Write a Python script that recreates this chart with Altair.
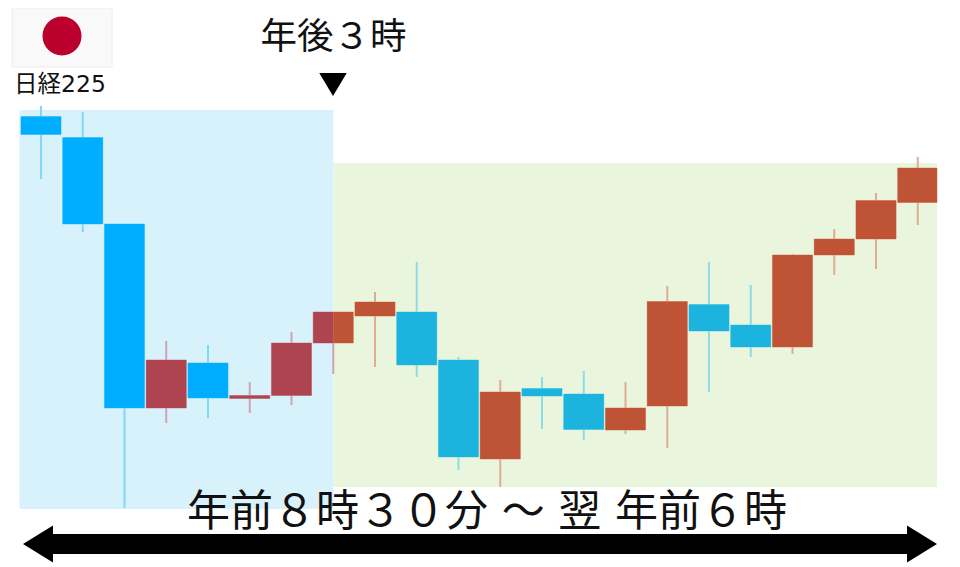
import altair as alt
import pandas as pd

# Candles, in chart units (higher = up)
body_top = [450.5, 429.5, 343, 207, 204, 171.5, 224, 255, 265, 255, 207, 175, 178.5, 173, 159, 265.5, 262.5, 242, 312, 328, 366.5, 399]
body_bot = [432.5, 343, 159, 159, 169, 168.5, 171.5, 224, 251, 202, 110, 108, 171, 137.5, 137, 161, 236, 220, 220, 312, 328, 364.5]
wick_hi = [461, 455, 343, 226, 222, 185, 235, 255, 275, 305, 210, 187, 190, 196, 185, 281, 305, 282, 313, 338, 374, 410]
wick_lo = [388, 335, 59, 144, 149, 154, 162, 193, 200, 190, 97, 80, 138, 127, 133, 119, 175, 210, 213, 292, 298, 342]
rising = [False, False, False, True, False, True, True, True, True, False, False, True, False, False, True, True, False, False, True, True, True, True]

# Session bands: candle-number span and price span
band_names = ["tokyo", "after"]
band_start = [-0.515, 7.006]
band_end = [7.006, 21.46]
band_low = [58, 80]
band_high = [457, 404]
band_fill = ["#D8F2FC", "#E9F5DC"]

PALETTE = {
    ("tokyo", True): ("#AE4450", "#CFA3B2"),
    ("tokyo", False): ("#00AEFF", "#7FD7FC"),
    ("after", True): ("#BF5336", "#E0AC94"),
    ("after", False): ("#1DB3DF", "#8EDCE4"),
}
HALF = 0.48
FONT = "DejaVu Sans, Noto Sans CJK JP"

bands = pd.DataFrame({"name": band_names, "x": band_start, "x2": band_end,
                      "y": band_low, "y2": band_high, "fill": band_fill})

bodies, wicks = [], []
for i in range(len(body_top)):
    region = "tokyo" if i < band_start[1] else "after"
    wicks.append({"x": i, "y": wick_lo[i], "y2": wick_hi[i], "c": PALETTE[(region, rising[i])][1]})
    left, right = i - HALF, min(i + HALF, band_end[1])
    for name, s, e in zip(band_names, band_start, band_end):
        a, b = max(left, s), min(right, e)
        if a < b:
            fill, edge = PALETTE[(name, rising[i])]
            bodies.append({"x": a, "x2": b, "y": body_bot[i], "y2": body_top[i], "c": fill, "e": edge})
bodies = pd.DataFrame(bodies)
wicks = pd.DataFrame(wicks)

x = alt.X("x:Q", scale=alt.Scale(domain=[-0.79, 21.82], nice=False, zero=False), axis=None)
y = alt.Y("y:Q", scale=alt.Scale(domain=[4, 559], nice=False, zero=False), axis=None)


def single():
    return alt.Chart(pd.DataFrame({"k": [0]}))


def label(text, px, py, size):
    return single().mark_text(text=text, font=FONT, fontSize=size, color="#111111",
                              align="center", baseline="middle").encode(
        x=alt.value(px - 8), y=alt.value(py - 8))


def tri(path, size, px, py):
    return single().mark_point(shape=path, filled=True, size=size, color="#000000", opacity=1).encode(
        x=alt.value(px - 8), y=alt.value(py - 8))


band_layer = alt.Chart(bands).mark_rect().encode(
    x=x, x2="x2:Q", y=y, y2="y2:Q", fill=alt.Fill("fill:N", scale=None))
wick_layer = alt.Chart(wicks).mark_rule(strokeWidth=2).encode(
    x=x, y=y, y2="y2:Q", color=alt.Color("c:N", scale=None))
edge_layer = alt.Chart(bodies).mark_rect(strokeWidth=1).encode(
    x=x, x2="x2:Q", y=y, y2="y2:Q",
    fill=alt.Fill("c:N", scale=None), stroke=alt.Stroke("e:N", scale=None))
fill_layer = alt.Chart(bodies).mark_rect().encode(
    x=x, x2="x2:Q", y=y, y2="y2:Q", fill=alt.Fill("c:N", scale=None))

flag = single().mark_rect(fill="#F9F9F9", stroke="#EEEEEE", strokeWidth=1).encode(
    x=alt.value(12 - 8), x2=alt.value(112 - 8), y=alt.value(0), y2=alt.value(67 - 8))
sun = single().mark_point(shape="circle", filled=True, size=1521, color="#BC002D", opacity=1).encode(
    x=alt.value(62 - 8), y=alt.value(36 - 8))
shaft = single().mark_rect(color="#000000").encode(
    x=alt.value(50 - 8), x2=alt.value(910 - 8), y=alt.value(534 - 8), y2=alt.value(554 - 8))

chart = alt.layer(
    band_layer, wick_layer, edge_layer, fill_layer,
    flag, sun,
    label("日経225", 60, 85, 23.5),
    label("年後３時", 333.5, 38, 36.5),
    tri("M-1,-0.84L1,-0.84L0,0.84Z", 756, 333, 84.5),
    label("年前８時３０分 ～ 翌 年前６時", 487, 513, 43),
    shaft,
    tri("M-1,0L1,-1.23L1,1.23Z", 900, 38, 544),
    tri("M1,0L-1,-1.23L-1,1.23Z", 900, 922, 544),
).properties(
    width=944, height=555, padding=0,
    autosize=alt.AutoSizeParams(type="none"),
).configure_view(stroke=None)

chart.save("out.html", embed_options={"renderer": "svg", "actions": False})
